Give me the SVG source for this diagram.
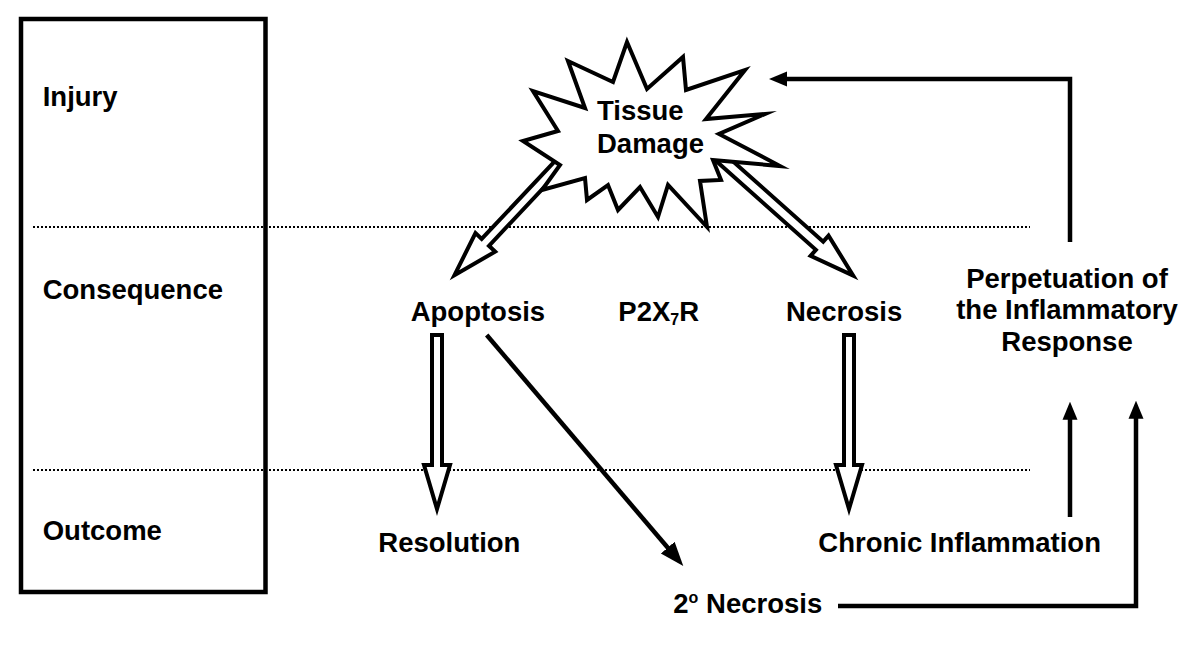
<svg xmlns="http://www.w3.org/2000/svg" width="1200" height="657" viewBox="0 0 1200 657">
<defs>
<style>
.t{font-family:"Liberation Sans",Arial,sans-serif;font-weight:bold;font-size:27.5px;fill:#000}
.dot{stroke:#000;stroke-width:2;stroke-dasharray:2 2;fill:none}
.hol{fill:#fff;stroke:#000;stroke-width:4;stroke-linejoin:miter;stroke-miterlimit:10}
.ln{fill:none;stroke:#000;stroke-width:4.5;stroke-linejoin:miter}
</style>
<marker id="ah" viewBox="0 -8 18 16" markerWidth="18" markerHeight="16" refX="8" refY="0" markerUnits="userSpaceOnUse" orient="auto">
<path d="M0,-7.5 L18,0 L0,7.5 Z" fill="#000"/>
</marker>
<marker id="ah2" viewBox="0 -10 24 20" markerWidth="24" markerHeight="20" refX="10" refY="0" markerUnits="userSpaceOnUse" orient="auto">
<path d="M0,-9 L24,0 L0,9 Z" fill="#000"/>
</marker>
</defs>
<rect width="1200" height="657" fill="#fff"/>

<g id="stages">
<rect x="21" y="19" width="244.5" height="573" fill="none" stroke="#000" stroke-width="4.5"/>
<line class="dot" x1="33" y1="227" x2="1030" y2="227"/>
<line class="dot" x1="33" y1="470" x2="1030" y2="470"/>
<text class="t" x="42.7" y="106">Injury</text>
<text class="t" x="42.7" y="298.5">Consequence</text>
<text class="t" x="42.7" y="539.5">Outcome</text>
</g>

<g id="connectors">
<path class="hol" transform="translate(560,163) rotate(133.25)" d="M0,-5 H109 V-13.5 L154,0 L109,13.5 V5 H0 Z"/>
<path class="hol" transform="translate(712,150) rotate(41.67)" d="M0,-5.5 H144 V-13.5 L189,0 L144,13.5 V5.5 H0 Z"/>
<path class="hol" d="M432,335 H442 V465 H450 L437,509 L424,465 H432 Z"/>
<path class="hol" d="M844,335 H854 V465 H862 L849,509 L836,465 H844 Z"/>
<path class="ln" d="M486.7,335 L674.2,555.3" marker-end="url(#ah2)"/>
<path class="ln" d="M1070,242 V79 H779" marker-end="url(#ah)"/>
<path class="ln" d="M1070,517 V411.7" marker-end="url(#ah)"/>
<path class="ln" d="M838,606 H1136 V410.7" marker-end="url(#ah)"/>
</g>

<g id="tissue-damage">
<polygon points="627,42 647,89 683,57 686,90 745,70 706,119 765,114 719,134 780,166 713,160 721,180 700,181 707,227 668,185 658,217 640,187 618,210 608,185 587,200 585,178 542,190 560,165 523,141 558,131 533,91 585,108 568,61 613,82" fill="#fff" stroke="#000" stroke-width="4" stroke-linejoin="miter" stroke-miterlimit="10"/>
<text class="t" x="597" y="119.5">Tissue</text>
<text class="t" x="597" y="152.5">Damage</text>
</g>

<g id="apoptosis"><text class="t" x="410.7" y="320.7">Apoptosis</text></g>
<g id="p2x7r"><text class="t" x="618.3" y="320.7">P2X<tspan font-size="16" dy="4">7</tspan><tspan dy="-4">R</tspan></text></g>
<g id="necrosis"><text class="t" x="786" y="320.7">Necrosis</text></g>
<g id="perpetuation">
<text class="t" x="1067" y="287.5" text-anchor="middle">Perpetuation of</text>
<text class="t" x="1067" y="319" text-anchor="middle">the Inflammatory</text>
<text class="t" x="1067" y="350.5" text-anchor="middle">Response</text>
</g>
<g id="resolution"><text class="t" x="378.3" y="551.7">Resolution</text></g>
<g id="chronic-inflammation"><text class="t" x="818.3" y="551.7">Chronic Inflammation</text></g>
<g id="secondary-necrosis"><text class="t" x="673.3" y="612.7">2<tspan font-size="16" dy="-10">o</tspan><tspan dy="10"> Necrosis</tspan></text></g>
</svg>
